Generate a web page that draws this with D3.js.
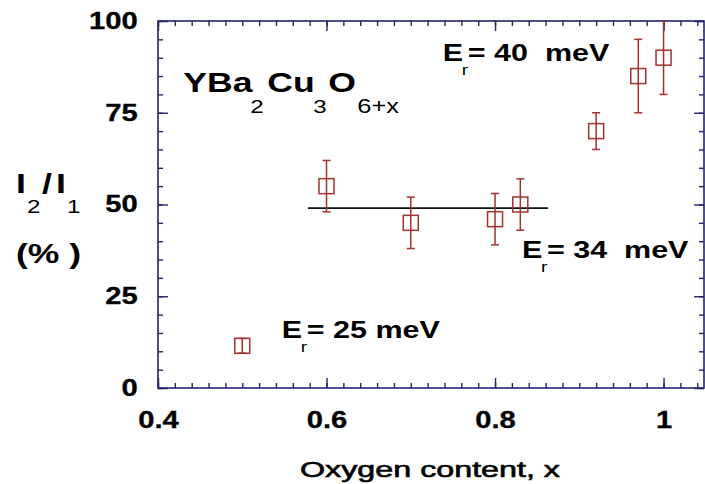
<!DOCTYPE html>
<html><head><meta charset="utf-8">
<script src="https://cdn.jsdelivr.net/npm/d3@7"></script>
<style>
body{margin:0;background:#fff}
svg{display:block}
text{white-space:pre}
</style>
</head><body>
<svg id="c" width="705" height="484"></svg>
<script>
// ---- data ----
const oxygen   = [0.5, 0.6, 0.7, 0.8, 0.83, 0.92, 0.97, 1.0];
const ratio    = [11.5, 55, 45, 46, 50, 70, 85, 90];
const ratioErr = [2, 7, 7, 7, 7, 5, 10, 10];
const fitX = [0.578, 0.863];
const fitY = 49;
const xTicks = [0.4, 0.6, 0.8, 1.0];
const xTickLabels = ["0.4", "0.6", "0.8", "1"];
const yTicks = [0, 25, 50, 75, 100];
const yTickLabels = ["0", "25", "50", "75", "100"];
const xTitle = "Oxygen content, x";
const yTitleParts = ["I", "2", "/", "I", "1"];
const yTitleUnit = "(% )";
const formulaParts = ["YBa", "2", "Cu", "3", "O", "6+x"];
const annoLabels = ["= 40  meV", "= 34  meV", "= 25 meV"];
const annoX = [0.738, 0.832, 0.547];
const annoY = [89.1, 35.4, 13.6];
const formulaX = 0.43, formulaY = 80.7;

// ---- layout ----
const svg = d3.select("#c");
const L = 158, R = 704, T = 21, B = 388;
const x = d3.scaleLinear().domain([0.4, 1.048]).range([L, R]);
const y = d3.scaleLinear().domain([0, 100]).range([B, T]);
const navy = "#24246e", red = "#a3312f";
const FONT = "'Liberation Sans', Arial, Helvetica, sans-serif";
const SX = 1.27;

const xMinor = d3.range(20, 53).map(i => i * 0.02);
const yMinor = d3.range(0, 21).map(i => i * 5);

function styleAxis(g) {
  g.select(".domain").remove();
  g.selectAll(".tick line").attr("stroke", navy).attr("stroke-width", 1.4);
  g.selectAll("text").attr("font-family", FONT).attr("font-weight", "bold")
    .attr("font-size", 23).attr("fill", "#000")
    .attr("stroke", "#000").attr("stroke-width", 0.3)
    .attr("transform", `scale(${SX},1)`);
}

// minor ticks
svg.append("g").attr("transform", `translate(0,${B})`)
  .call(d3.axisBottom(x).tickValues(xMinor).tickSize(-5).tickFormat("")).call(styleAxis);
svg.append("g").attr("transform", `translate(0,${T})`)
  .call(d3.axisTop(x).tickValues(xMinor).tickSize(-5).tickFormat("")).call(styleAxis);
svg.append("g").attr("transform", `translate(${L},0)`)
  .call(d3.axisLeft(y).tickValues(yMinor).tickSize(-5).tickFormat("")).call(styleAxis);
svg.append("g").attr("transform", `translate(${R},0)`)
  .call(d3.axisRight(y).tickValues(yMinor).tickSize(-5).tickFormat("")).call(styleAxis);

// major ticks
svg.append("g").attr("transform", `translate(0,${B})`)
  .call(d3.axisBottom(x).tickValues(xTicks).tickSize(-10).tickPadding(24)
    .tickFormat((d, i) => xTickLabels[i])).call(styleAxis);
svg.append("g").attr("transform", `translate(0,${T})`)
  .call(d3.axisTop(x).tickValues(xTicks).tickSize(-10).tickFormat("")).call(styleAxis);
svg.append("g").attr("transform", `translate(${L},0)`)
  .call(d3.axisLeft(y).tickValues(yTicks).tickSize(-10).tickPadding(16)
    .tickFormat((d, i) => yTickLabels[i])).call(styleAxis);
svg.append("g").attr("transform", `translate(${R},0)`)
  .call(d3.axisRight(y).tickValues(yTicks).tickSize(-10).tickFormat("")).call(styleAxis);

// frame
svg.append("rect").attr("x", L).attr("y", T).attr("width", R - L).attr("height", B - T)
  .attr("fill", "none").attr("stroke", navy).attr("stroke-width", 1.6);

// fit line
svg.append("line")
  .attr("x1", x(fitX[0])).attr("x2", x(fitX[1]))
  .attr("y1", y(fitY)).attr("y2", y(fitY))
  .attr("stroke", "#111").attr("stroke-width", 1.6);

// data points with error bars
svg.append("clipPath").attr("id", "plotclip").append("rect")
  .attr("x", L).attr("y", T).attr("width", R - L).attr("height", B - T);
const pts = svg.append("g").attr("clip-path", "url(#plotclip)")
  .selectAll("g").data(oxygen.map((o, i) => ({o, v: ratio[i], e: ratioErr[i]})))
  .join("g").attr("stroke", red).attr("stroke-width", 1.5).attr("fill", "none");
pts.append("line").attr("x1", d => x(d.o)).attr("x2", d => x(d.o))
  .attr("y1", d => y(d.v - d.e)).attr("y2", d => y(d.v + d.e));
pts.append("line").attr("x1", d => x(d.o) - 4).attr("x2", d => x(d.o) + 4)
  .attr("y1", d => y(d.v - d.e)).attr("y2", d => y(d.v - d.e));
pts.append("line").attr("x1", d => x(d.o) - 4).attr("x2", d => x(d.o) + 4)
  .attr("y1", d => y(d.v + d.e)).attr("y2", d => y(d.v + d.e));
pts.append("rect").attr("x", d => x(d.o) - 7.5).attr("y", d => y(d.v) - 7.5)
  .attr("width", 15).attr("height", 15);

// rich text helper
function rich(px, py, parts) {
  const g = svg.append("g").attr("transform", `translate(${px},${py})`);
  parts.forEach(p => {
    g.append("text").attr("transform", `translate(${p.dx},${p.dy}) scale(${SX},1)`)
      .attr("font-family", FONT).attr("font-weight", p.w || "bold")
      .attr("font-size", p.s).attr("fill", "#000").text(p.t);
  });
  return g;
}

// formula
rich(x(formulaX), y(formulaY), [
  {t: formulaParts[0], dx: 0, dy: 0, s: 28},
  {t: formulaParts[1], dx: 67, dy: 21, s: 19, w: "normal"},
  {t: formulaParts[2], dx: 84, dy: 0, s: 28},
  {t: formulaParts[3], dx: 130, dy: 21, s: 19, w: "normal"},
  {t: formulaParts[4], dx: 145, dy: 0, s: 28},
  {t: formulaParts[5], dx: 174, dy: 21, s: 20, w: "normal"}
]);

// annotations
annoLabels.forEach((lab, i) => {
  rich(x(annoX[i]), y(annoY[i]), [
    {t: "E", dx: 0, dy: 0, s: 24},
    {t: "r", dx: 19, dy: 14, s: 15, w: "normal"},
    {t: lab, dx: 25, dy: 0, s: 24}
  ]);
});

// y title
rich(16, 193, [
  {t: yTitleParts[0], dx: 0, dy: 0, s: 28},
  {t: yTitleParts[1], dx: 11, dy: 20, s: 19, w: "normal"},
  {t: yTitleParts[2], dx: 26, dy: 0, s: 28},
  {t: yTitleParts[3], dx: 40, dy: 0, s: 28},
  {t: yTitleParts[4], dx: 51, dy: 20, s: 19, w: "normal"}
]);
rich(16, 263, [{t: yTitleUnit, dx: 0, dy: 0, s: 28}]);

// x title
svg.append("text").attr("x", 300).attr("y", 477)
  .attr("font-family", FONT).attr("font-size", 22).attr("fill", "#000")
  .attr("stroke", "#000").attr("stroke-width", 0.6)
  .attr("textLength", 260).attr("lengthAdjust", "spacingAndGlyphs")
  .text(xTitle);
</script>
</body></html>
